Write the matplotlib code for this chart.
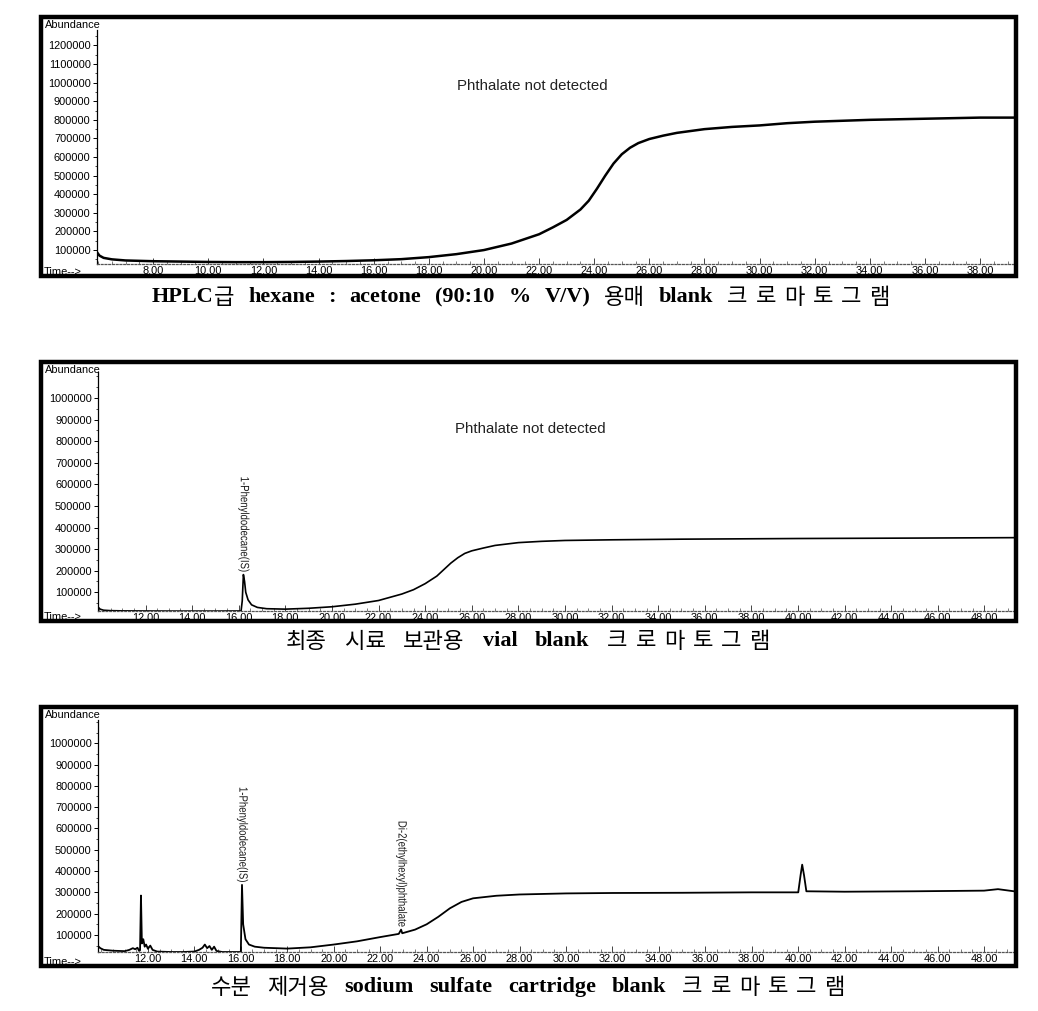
import matplotlib
matplotlib.use('Agg')
import matplotlib.pyplot as plt
from matplotlib.patches import Rectangle, PathPatch
from matplotlib.ticker import FixedLocator, MultipleLocator
from matplotlib.textpath import TextPath
from matplotlib.font_manager import FontProperties
from matplotlib.transforms import Affine2D, IdentityTransform

# ---------------- data ----------------
p1_time = [5.96, 6.05, 6.2, 6.5, 7.0, 8.0, 9.0, 10.0, 11.0, 12.0, 13.0, 14.0, 15.0, 16.0, 17.0,
           18.0, 19.0, 20.0, 21.0, 22.0, 22.5, 23.0, 23.5, 23.8, 24.1, 24.4, 24.7, 25.0, 25.3,
           25.6, 26.0, 26.5, 27.0, 28.0, 29.0, 30.0, 31.0, 32.0, 33.0, 34.0, 35.0, 36.0, 37.0,
           38.0, 39.23]
p1_abund = [88000, 70000, 58000, 50000, 44000, 40000, 38000, 36000, 35000, 35000, 36000, 38000,
            41000, 45000, 51000, 62000, 78000, 100000, 135000, 185000, 222000, 262000, 318000,
            365000, 430000, 500000, 565000, 615000, 650000, 675000, 697000, 715000, 730000,
            750000, 762000, 770000, 782000, 790000, 795000, 800000, 803000, 806000, 809000,
            812000, 812000]

p2_time = [9.96, 10.05, 10.2, 10.5, 11.0, 12.0, 13.0, 14.0, 15.0, 16.1, 16.15, 16.2, 16.25, 16.3,
           16.4, 16.55, 16.8, 17.2, 18.0, 19.0, 20.0, 21.0, 22.0, 23.0, 23.5, 24.0, 24.5, 24.8,
           25.1, 25.4, 25.7, 26.0, 26.5, 27.0, 28.0, 29.0, 30.0, 32.0, 35.0, 40.0, 45.0, 49.27]
p2_abund = [32000, 22000, 17000, 15000, 14000, 13500, 13000, 13000, 13000, 13500, 60000, 182000,
            150000, 100000, 65000, 42000, 30000, 24000, 22000, 26000, 33000, 45000, 62000, 92000,
            112000, 140000, 175000, 205000, 235000, 260000, 280000, 292000, 305000, 317000,
            330000, 336000, 340000, 343000, 346000, 349000, 351000, 353000]

p3_time = [9.85, 9.95, 10.1, 10.5, 11.0, 11.2, 11.35, 11.45, 11.55, 11.62, 11.66, 11.70, 11.74,
           11.8, 11.86, 11.92, 12.0, 12.1, 12.2, 12.4, 13.0, 13.5, 14.0, 14.2, 14.35, 14.45, 14.55,
           14.65, 14.75, 14.85, 14.95, 15.2, 16.0, 16.05, 16.1, 16.2, 16.35, 16.6, 17.0, 17.5, 18.0,
           19.0, 20.0, 21.0, 22.0, 22.8, 22.9, 22.95, 23.5, 24.0, 24.5, 25.0, 25.5, 26.0, 27.0,
           28.0, 30.0, 32.0, 35.0, 38.0, 40.0, 40.1, 40.17, 40.25, 40.35, 42.0, 45.0, 48.0, 48.6, 49.29]
p3_abund = [48000, 38000, 30000, 26000, 24000, 30000, 38000, 33000, 40000, 25000, 28000, 285000,
            60000, 80000, 45000, 55000, 35000, 50000, 30000, 22000, 20000, 20000, 22000, 30000,
            40000, 55000, 38000, 48000, 30000, 45000, 25000, 20000, 20000, 335000, 150000, 80000,
            55000, 45000, 40000, 38000, 36000, 42000, 55000, 70000, 90000, 105000, 125000, 108000,
            125000, 150000, 185000, 225000, 255000, 272000, 284000, 290000, 295000, 297000, 298000,
            300000, 300000, 380000, 430000, 380000, 305000, 303000, 305000, 308000, 315000, 305000]

p1_xticks = [8, 10, 12, 14, 16, 18, 20, 22, 24, 26, 28, 30, 32, 34, 36, 38]
p23_xticks = [12, 14, 16, 18, 20, 22, 24, 26, 28, 30, 32, 34, 36, 38, 40, 42, 44, 46, 48]
p1_yticks = [100000, 200000, 300000, 400000, 500000, 600000, 700000, 800000, 900000,
             1000000, 1100000, 1200000]
p23_yticks = [100000, 200000, 300000, 400000, 500000, 600000, 700000, 800000, 900000, 1000000]

p2_peaks = [("1-Phenyldodecane(IS)", 16.2, 182000)]
p3_peaks = [("1-Phenyldodecane(IS)", 16.05, 335000), ("Di-2(ethylhexyl)phthalate", 22.9, 125000)]
note_text = "Phthalate not detected"

caption1 = ["HPLC급", "hexane", ":", "acetone", "(90:10", "%", "V/V)", "용매", "blank", "크로마토그램"]
caption2 = ["최종", "시료", "보관용", "vial", "blank", "크로마토그램"]
caption3 = ["수분", "제거용", "sodium", "sulfate", "cartridge", "blank", "크로마토그램"]

# ---------------- layout ----------------
W, H = 1038, 1011
fig = plt.figure(figsize=(W / 100, H / 100), dpi=100)
fig.patch.set_facecolor('white')
SANS = ['Liberation Sans', 'DejaVu Sans']
TFS = 7.9


def add_ax(x0, y0, x1, y1):
    return fig.add_axes([x0 / W, 1 - y1 / H, (x1 - x0) / W, (y1 - y0) / H])


def vlabel(ax, name, t, v):
    fp = FontProperties(family='Liberation Sans')
    tp = TextPath((0, 0), name, prop=fp, size=12)
    ext = tp.get_extents()
    sx = 0.8
    L = ext.x1 * sx
    px, py = ax.transData.transform((t, v))
    tr = (Affine2D().scale(sx, 1).rotate_deg(-90)
          .translate(px - (ext.y0 + ext.y1) / 2 + 0.5, py + 3 + L))
    patch = PathPatch(tr.transform_path(tp), transform=IdentityTransform(),
                      facecolor='#1a1a1a', edgecolor='none', zorder=6)
    fig.add_artist(patch)


def panel(outer, inner, xlim, ylim, xticks, yticks, t, a, lw, peaks=(), note=None):
    x0, y0, x1, y1 = outer
    fig.add_artist(Rectangle((x0 / W, 1 - y1 / H), (x1 - x0) / W, (y1 - y0) / H,
                             transform=fig.transFigure, fill=False, lw=3.2,
                             edgecolor='black', zorder=10))
    ax = add_ax(*inner)
    ax.set_facecolor('none')
    ax.plot(t, a, color='black', lw=lw, solid_joinstyle='round')
    ax.set_xlim(*xlim)
    ax.set_ylim(*ylim)
    for s in ('top', 'right'):
        ax.spines[s].set_visible(False)
    ax.spines['left'].set_linewidth(0.9)
    ax.spines['bottom'].set_linestyle((0, (1.5, 1.5)))
    ax.spines['bottom'].set_color('#555555')
    ax.spines['bottom'].set_linewidth(0.9)
    ax.xaxis.set_major_locator(FixedLocator(xticks))
    ax.set_xticklabels([f"{v:.2f}" for v in xticks], fontfamily=SANS, fontsize=TFS)
    ax.xaxis.set_minor_locator(MultipleLocator(0.5))
    ax.yaxis.set_major_locator(FixedLocator(yticks))
    ax.set_yticklabels([str(v) for v in yticks], fontfamily=SANS, fontsize=TFS)
    ax.yaxis.set_minor_locator(MultipleLocator(50000))
    ax.tick_params(axis='x', which='major', direction='in', length=4, width=0.7, pad=1.5,
                   color='#444444')
    ax.tick_params(axis='x', which='minor', direction='in', length=2, width=0.6, color='#666666')
    ax.tick_params(axis='y', which='major', direction='out', length=3, width=0.7, pad=1.5)
    ax.tick_params(axis='y', which='minor', direction='out', length=1.5, width=0.5)
    for name, pt, pv in peaks:
        vlabel(ax, name, pt, pv)
    if note:
        fig.text(note[1] / W, 1 - note[2] / H, note[0], ha='center', va='center',
                 fontsize=10.8, fontfamily=SANS, color='#222222')
    fig.text((x0 + 4) / W, 1 - (y0 + 8) / H, "Abundance", ha='left', va='center',
             fontsize=TFS, fontfamily=SANS)
    fig.text((x0 + 3) / W, 1 - (y1 - 4) / H, "Time-->", ha='left', va='center',
             fontsize=TFS, fontfamily=SANS)
    return ax


panel((41, 17, 1016, 276), (97, 30, 1014, 264), (5.96, 39.23), (25000, 1283000),
      p1_xticks, p1_yticks, p1_time, p1_abund, 1.8, note=(note_text, 532, 86))
panel((41, 362, 1016, 621), (98, 372, 1014, 611), (9.96, 49.27), (13400, 1120000),
      p23_xticks, p23_yticks, p2_time, p2_abund, 1.2, peaks=p2_peaks, note=(note_text, 530, 429))
panel((41, 707, 1016, 966), (98, 720, 1014, 952), (9.85, 49.29), (20000, 1109000),
      p23_xticks, p23_yticks, p3_time, p3_abund, 1.3, peaks=p3_peaks)

# ---------------- captions ----------------
renderer = fig.canvas.get_renderer()
LAT = dict(fontfamily=['Liberation Serif'], fontweight='bold', fontsize=16)
KOR = dict(fontfamily=['Noto Sans CJK KR'], fontweight='normal', fontsize=16)
KOR_TRACK = 8


def is_hangul(c):
    return 0xAC00 <= ord(c) <= 0xD7A3


def pieces(word, spaced):
    segs = []
    for c in word:
        k = is_hangul(c)
        if segs and segs[-1][1] == k and not (spaced and k):
            segs[-1][0] += c
        else:
            segs.append([c, k])
    return segs


def caption(words, left, right, yc):
    items = []
    for i, w in enumerate(words):
        spaced = (i == len(words) - 1)
        parts = []
        segs = pieces(w, spaced)
        for j, (txt, k) in enumerate(segs):
            tt = fig.text(0, 1 - yc / H, txt, ha='left', va='center', **(KOR if k else LAT))
            bb = tt.get_window_extent(renderer)
            extra = KOR_TRACK if (spaced and k and j < len(segs) - 1) else 0
            parts.append((tt, bb.width + extra))
        items.append(parts)
    widths = [sum(p[1] for p in parts) for parts in items]
    gap = (right - left - sum(widths)) / max(1, len(words) - 1)
    x = left
    for parts, wd in zip(items, widths):
        xx = x
        for tt, pw in parts:
            tt.set_x(xx / W)
            xx += pw
        x += wd + gap


caption(caption1, 152, 890, 297)
caption(caption2, 286, 770, 641)
caption(caption3, 211, 845, 987)

fig.savefig('out.png', dpi=100, facecolor='white')
